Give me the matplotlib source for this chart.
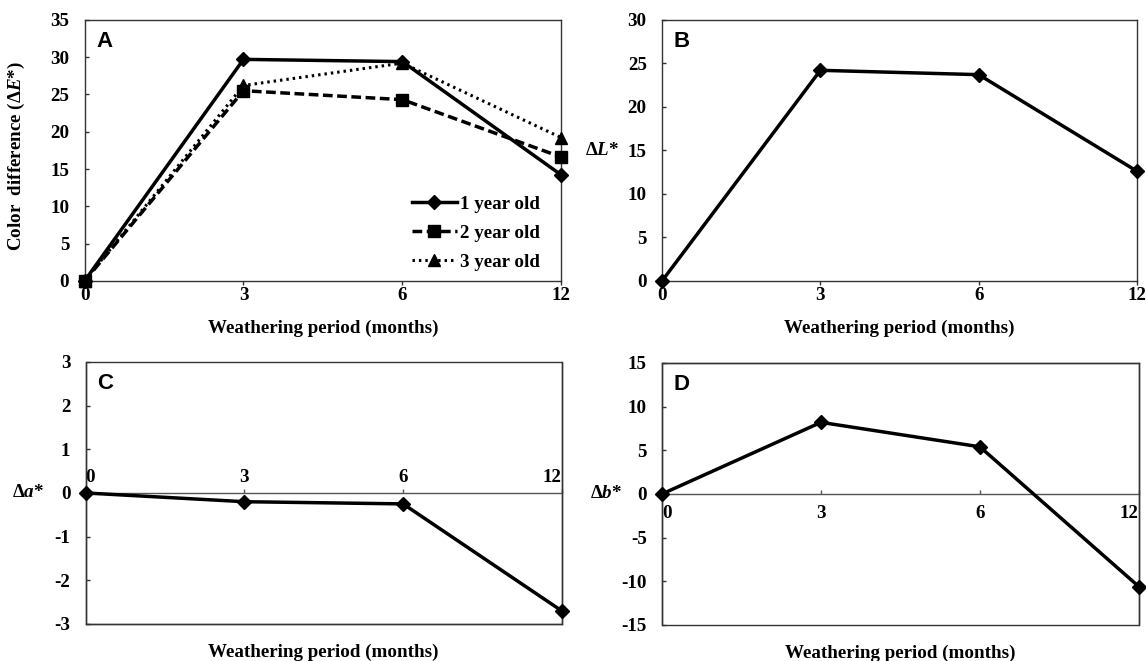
import matplotlib
matplotlib.use("Agg")
import matplotlib.pyplot as plt
from matplotlib.patches import Rectangle

# Data
months = ["0", "3", "6", "12"]
dE_1yr = [0, 29.7, 29.4, 14.2]
dE_2yr = [0, 25.5, 24.3, 16.6]
dE_3yr = [0, 26.2, 29.2, 19.2]
dL = [0, 24.2, 23.7, 12.6]
da = [0, -0.2, -0.25, -2.7]
db = [0, 8.2, 5.4, -10.6]

plt.rcParams["font.family"] = "Liberation Serif"
plt.rcParams["font.weight"] = "bold"
plt.rcParams["axes.unicode_minus"] = False
plt.rcParams["mathtext.fontset"] = "custom"
plt.rcParams["mathtext.rm"] = "Liberation Serif:bold"
plt.rcParams["mathtext.it"] = "Liberation Serif:italic:bold"
plt.rcParams["mathtext.bf"] = "Liberation Serif:bold"

FS = 13.7
EDGE = "#333333"
xpos = list(range(len(months)))

fig = plt.figure(figsize=(11.46, 6.61), dpi=100)
axA = fig.add_axes([0.0738, 0.575, 0.416, 0.395])
axB = fig.add_axes([0.5777, 0.575, 0.4145, 0.395])
axC = fig.add_axes([0.0748, 0.056, 0.4154, 0.3964])
axD = fig.add_axes([0.5777, 0.0545, 0.416, 0.3964])


def common(ax, ylim, step):
    ax.set_xlim(0, 3)
    ax.set_ylim(*ylim)
    ax.set_yticks(range(ylim[0], ylim[1] + 1, step))
    ax.set_xticks(xpos)
    ax.set_xticklabels(months)
    for s in ax.spines.values():
        s.set_color(EDGE)
        s.set_linewidth(1.0)
    ax.tick_params(axis="y", direction="in", length=3, width=1, color=EDGE,
                   pad=11, labelsize=FS)
    for lab in ax.get_yticklabels():
        lab.set_fontweight("bold")


def panel_letter(ax, letter):
    ax.text(0.024, 0.916, letter, transform=ax.transAxes, ha="left", va="center",
            fontsize=16, fontweight="bold", family="Liberation Sans")


def xlabel(ax, y):
    ax.text(0.5, y, "Weathering period (months)", transform=ax.transAxes,
            ha="center", va="center", fontsize=FS, fontweight="bold")


# Panel A
common(axA, (0, 35), 5)
axA.tick_params(axis="x", direction="out", length=3, width=1, color=EDGE,
                pad=1.5, labelsize=FS)
axA.plot(xpos, dE_1yr, color="black", lw=2.5, marker="D", ms=7.5,
         label="1 year old", clip_on=False, zorder=5)
axA.plot(xpos, dE_2yr, color="black", lw=2.5, ls=(0, (2.8, 1.3)), marker="s",
         ms=9, label="2 year old", clip_on=False, zorder=4)
axA.plot(xpos, dE_3yr, color="black", lw=2.2, ls=(0, (0.8, 1.3)), marker="^",
         ms=9, label="3 year old", clip_on=False, zorder=4)
axA.set_ylabel("Color  difference (Δ$\\mathit{E}$*)", fontsize=FS, fontweight="bold")
axA.yaxis.set_label_coords(-0.121, 0.48)
axA.legend(loc="upper left", bbox_to_anchor=(0.686, 0.326), frameon=False,
           fontsize=FS, handlelength=2.4, handletextpad=0.15, labelspacing=0.6,
           borderpad=0, borderaxespad=0)
panel_letter(axA, "A")
xlabel(axA, -0.18)

# Panel B
common(axB, (0, 30), 5)
axB.tick_params(axis="x", direction="out", length=3, width=1, color=EDGE,
                pad=1.5, labelsize=FS)
axB.plot(xpos, dL, color="black", lw=2.5, marker="D", ms=7.5, clip_on=False, zorder=5)
axB.set_ylabel("Δ$\\mathit{L}$*", fontsize=FS, fontweight="bold", rotation=0,
               ha="center", va="center")
axB.yaxis.set_label_coords(-0.126, 0.5)
panel_letter(axB, "B")
xlabel(axB, -0.18)

# Panel C: x axis crosses at zero, labels above
common(axC, (-3, 3), 1)
axC.xaxis.set_ticks_position("top")
axC.spines["top"].set_position(("data", 0))
axC.spines["top"].set_color("#555555")
axC.tick_params(axis="x", direction="out", length=3, width=1, color="#555555",
                pad=2, labelsize=FS)
axC.add_patch(Rectangle((0, 0), 1, 1, transform=axC.transAxes, fill=False,
                        ec=EDGE, lw=1.0, clip_on=False, zorder=3))
axC.plot(xpos, da, color="black", lw=2.5, marker="D", ms=7.5, clip_on=False, zorder=5)
axC.set_ylabel("Δ$\\mathit{a}$*", fontsize=FS, fontweight="bold", rotation=0,
               ha="center", va="center")
axC.yaxis.set_label_coords(-0.121, 0.5)
panel_letter(axC, "C")
xlabel(axC, -0.107)

# Panel D: x axis crosses at zero, labels below
common(axD, (-15, 15), 5)
axD.spines["bottom"].set_position(("data", 0))
axD.spines["bottom"].set_color("#555555")
axD.tick_params(axis="x", direction="in", length=3, width=1, color="#555555",
                pad=8, labelsize=FS)
axD.add_patch(Rectangle((0, 0), 1, 1, transform=axD.transAxes, fill=False,
                        ec=EDGE, lw=1.0, clip_on=False, zorder=3))
axD.plot(xpos, db, color="black", lw=2.5, marker="D", ms=7.5, clip_on=False, zorder=5)
axD.set_ylabel("Δ$\\mathit{b}$*", fontsize=FS, fontweight="bold", rotation=0,
               ha="center", va="center")
axD.yaxis.set_label_coords(-0.117, 0.5)
panel_letter(axD, "D")
xlabel(axD, -0.107)

for ax in (axA, axB, axC, axD):
    for lab in ax.get_xticklabels():
        lab.set_fontweight("bold")

# end labels of the crossing axes sit inside the box
for ax in (axC, axD):
    labs = ax.get_xticklabels()
    labs[0].set_ha("left")
    labs[-1].set_ha("right")

fig.savefig("out.png", dpi=100)
